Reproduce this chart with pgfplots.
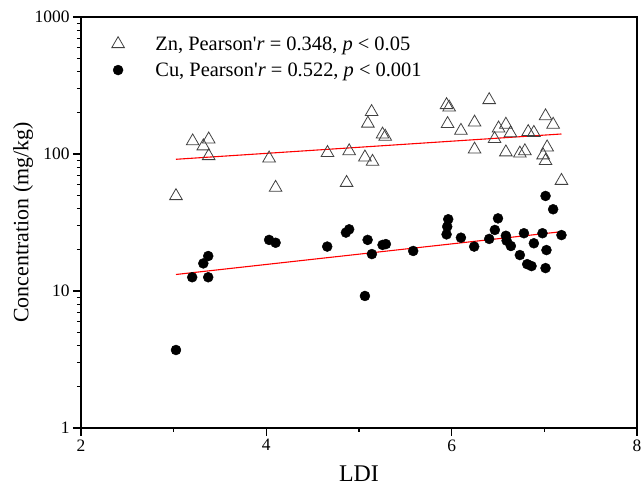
\documentclass[border=0pt]{standalone}
\usepackage{pgfplots}
\pgfplotsset{compat=1.18}
\usepackage{fontspec}
\setmainfont{Liberation Serif}
\begin{document}
\begin{tikzpicture}
\begin{axis}[
  at={(0,0)}, anchor=south west,
  scale only axis, width=556bp, height=411bp,
  xmin=2, xmax=8, ymin=1, ymax=1000, ymode=log,
  xtick={2,4,6,8}, minor xtick={3,5,7},
  ytick={1,10,100,1000}, yticklabels={1,10,100,1000},
  xtick pos=lower, ytick pos=left, tick align=outside,
  major tick length=8bp, minor tick length=4bp,
  every tick/.style={black, line width=1.2pt},
  axis line style={line width=1.4pt},
  /pgf/number format/assume math mode=true,
  ticklabel style={font=\fontsize{17.5}{20}\selectfont},
  xlabel={LDI}, ylabel={Concentration (mg/kg)},
  xlabel style={font=\fontsize{24}{28}\selectfont, at={(axis description cs:0.5,-0.11)}, anchor=center},
  ylabel style={font=\fontsize{22}{26}\selectfont, at={(axis description cs:-0.104,0.5)}, anchor=center},
  legend style={draw=none, fill=none, at={(axis description cs:0.055,0.958)}, anchor=north west,
    font=\fontsize{20.5}{24}\selectfont, row sep=7bp, inner sep=0pt},
  legend cell align=left,
  clip=false,
]
\addplot[only marks, mark=triangle, mark size=7.3bp, draw=black!75, line width=0.8pt] coordinates {
(3.025,49.4) (3.205,124) (3.378,128) (3.32,114) (3.378,96.7) (4.03,93) (4.10,56.8)
(4.66,102) (4.894,105) (4.866,61.7) (5.064,94.6) (5.146,87.9) (5.136,203) (5.096,167)
(5.254,139) (5.283,134) (5.945,228) (5.973,219) (5.956,166) (6.405,248) (6.10,148)
(6.247,170) (6.247,108) (6.463,129) (6.506,154) (6.585,164) (6.635,142) (6.585,103)
(6.736,101) (6.79,105) (6.826,145) (6.887,143) (7.013,189) (7.095,164) (7.03,112)
(6.987,98) (7.013,89) (7.185,63.8)
};
\addlegendentry{\hspace{29bp}Zn, Pearson\textquotesingle\textit{r} = 0.348, \textit{p} < 0.05}
\addplot[only marks, mark=*, mark size=5bp, black] coordinates {
(3.025,3.71) (3.20,12.6) (3.373,12.6) (3.32,15.9) (3.373,18.0) (4.03,23.6) (4.10,22.5)
(4.657,21.1) (4.859,26.7) (4.894,28.2) (5.064,9.2) (5.093,23.6) (5.139,18.6) (5.254,21.7)
(5.29,22.0) (5.585,19.6) (5.945,25.9) (5.952,29.5) (5.963,33.4) (6.10,24.5) (6.243,21.1)
(6.405,24.0) (6.466,27.9) (6.50,33.9) (6.585,25.3) (6.593,23.3) (6.639,21.3) (6.736,18.3)
(6.78,26.4) (6.815,15.7) (6.862,15.2) (6.887,22.3) (6.98,26.4) (7.013,49.4) (7.095,39.5)
(7.023,19.9) (7.013,14.7) (7.185,25.6)
};
\addlegendentry{\hspace{29bp}Cu, Pearson\textquotesingle\textit{r} = 0.522, \textit{p} < 0.001}
\addplot[red, line width=1.1pt, forget plot] coordinates {(3.025,91.5) (7.185,140)};
\addplot[red, line width=1.1pt, forget plot] coordinates {(3.025,13.2) (7.185,27.1)};
\end{axis}
\pgfresetboundingbox
\useasboundingbox (-81bp,-58bp) rectangle (560bp,428bp);
\end{tikzpicture}
\end{document}
